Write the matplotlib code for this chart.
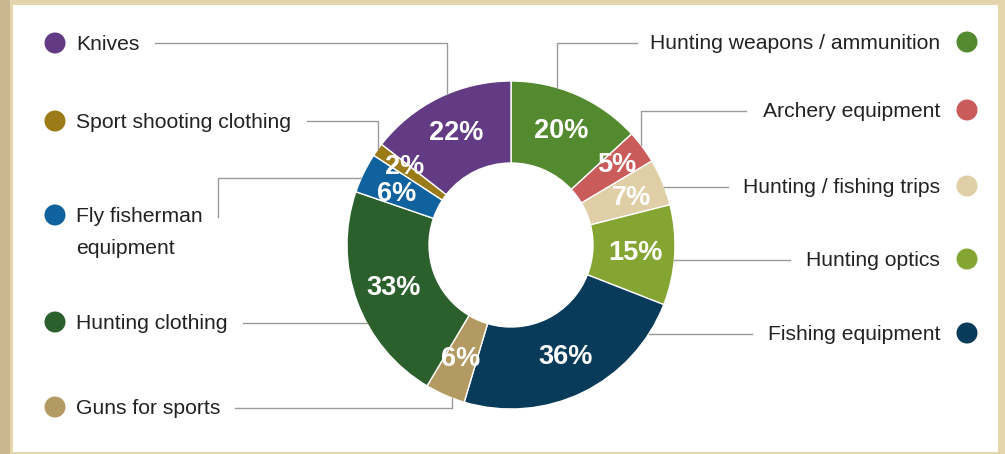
import matplotlib
matplotlib.use("Agg")
import matplotlib.pyplot as plt
import numpy as np
from matplotlib.patches import Rectangle, Circle

# ---------------- data ----------------
categories = ["Hunting weapons / ammunition", "Archery equipment", "Hunting / fishing trips",
              "Hunting optics", "Fishing equipment", "Guns for sports", "Hunting clothing",
              "Fly fisherman\nequipment", "Sport shooting clothing", "Knives"]
values = [20, 5, 7, 15, 36, 6, 33, 6, 2, 22]
pct_labels = ["20%", "5%", "7%", "15%", "36%", "6%", "33%", "6%", "2%", "22%"]
colors = ["#548A2F", "#C95B5A", "#E0CFA6", "#84A532", "#083A5A",
          "#B39A62", "#2B5F2C", "#0F629E", "#9B7B18", "#633A84"]

W, H = 1005, 454
fig = plt.figure(figsize=(W / 100, H / 100), dpi=100)
fig.patch.set_facecolor("#E4D5AC")
ax = fig.add_axes([0, 0, 1, 1])
ax.set_xlim(0, W)
ax.set_ylim(0, H)
ax.set_aspect("equal")
ax.axis("off")

def Y(py):
    return H - py

# frame
ax.add_patch(Rectangle((0, 0), 10, H, facecolor="#CAB78F", edgecolor="none", zorder=0))
ax.add_patch(Rectangle((13, Y(452)), 998 - 13, 452 - 5, facecolor="white",
                       edgecolor="none", zorder=0))

# donut
cx, cy, R = 511, 245, 164
wedges, texts, autotexts = ax.pie(
    values, colors=colors, startangle=90, counterclock=False,
    center=(cx, Y(cy)), radius=R, frame=True,
    wedgeprops=dict(width=R * 0.5, edgecolor="white", linewidth=1.0),
    autopct="%d%%", pctdistance=0.76,
    textprops=dict(color="white", fontsize=19.5, fontweight="bold", family="Liberation Sans"))
# small pixel nudges for crowded labels (dx, dy in screen pixels, y down)
nudges = {1: (6, -5), 2: (5, 1), 7: (-2, 4), 8: (-5, -6)}
for k, (t, lab) in enumerate(zip(autotexts, pct_labels)):
    t.set_text(lab)
    if k in nudges:
        x, y = t.get_position()
        t.set_position((x + nudges[k][0], y - nudges[k][1]))
ax.set_xlim(0, W)
ax.set_ylim(0, H)
ax.axis("off")

# ---------------- labels & leaders ----------------
line_kw = dict(color="#9A9A9A", linewidth=1.0, zorder=1)
txt_kw = dict(fontsize=15.2, color="#222222", family="Liberation Sans", va="center")
TDY = 1.5  # text baseline tweak

def circle_y(x, upper=True):
    d = np.sqrt(R ** 2 - (x - cx) ** 2)
    return cy - d if upper else cy + d

def circle_x(y, right=True):
    d = np.sqrt(R ** 2 - (y - cy) ** 2)
    return cx + d if right else cx - d

# right side: (index, label y, line start x, elbow type)
right_rows = [(0, 42, 637, ("v", 557)), (1, 110, 746, ("v", 641)),
              (2, 186, 728, ("h", None)), (3, 259, 790, ("h", None)),
              (4, 333, 752, ("h", None))]
for i, ty, lx, (kind, ex) in right_rows:
    ax.text(940, Y(ty + TDY), categories[i], ha="right", **txt_kw)
    ax.add_patch(Circle((967, Y(ty)), 10.5, facecolor=colors[i], edgecolor="none", zorder=3))
    ly = ty + 1
    if kind == "v":
        ax.plot([lx, ex, ex], [Y(ly), Y(ly), Y(circle_y(ex, True))], **line_kw)
    else:
        ax.plot([lx, circle_x(ly, True)], [Y(ly), Y(ly)], **line_kw)

# left side
left_rows = [(9, 43, 155, ("v", 447, True)), (8, 121, 307, ("v", 378, True)),
             (6, 322, 243, ("h", None, None)), (5, 407, 235, ("v", 452, False))]
for i, ty, lx, (kind, ex, up) in left_rows:
    ax.text(76, Y(ty + TDY), categories[i], ha="left", **txt_kw)
    ax.add_patch(Circle((55, Y(ty)), 10.5, facecolor=colors[i], edgecolor="none", zorder=3))
    ly = ty + 1 if kind == "h" or not up else ty
    if kind == "v":
        ax.plot([lx, ex, ex], [Y(ly), Y(ly), Y(circle_y(ex, up))], **line_kw)
    else:
        ax.plot([lx, circle_x(ly, False)], [Y(ly), Y(ly)], **line_kw)

# fly fisherman (two-line label)
i = 7
for k, part in enumerate(categories[i].split("\n")):
    ax.text(76, Y(215 + 32 * k + TDY), part, ha="left", **txt_kw)
ax.add_patch(Circle((55, Y(215)), 10.5, facecolor=colors[i], edgecolor="none", zorder=3))
ax.plot([218, 218, circle_x(178, False)], [Y(217), Y(178), Y(178)], **line_kw)

fig.savefig("out.png", dpi=100, facecolor=fig.get_facecolor())
